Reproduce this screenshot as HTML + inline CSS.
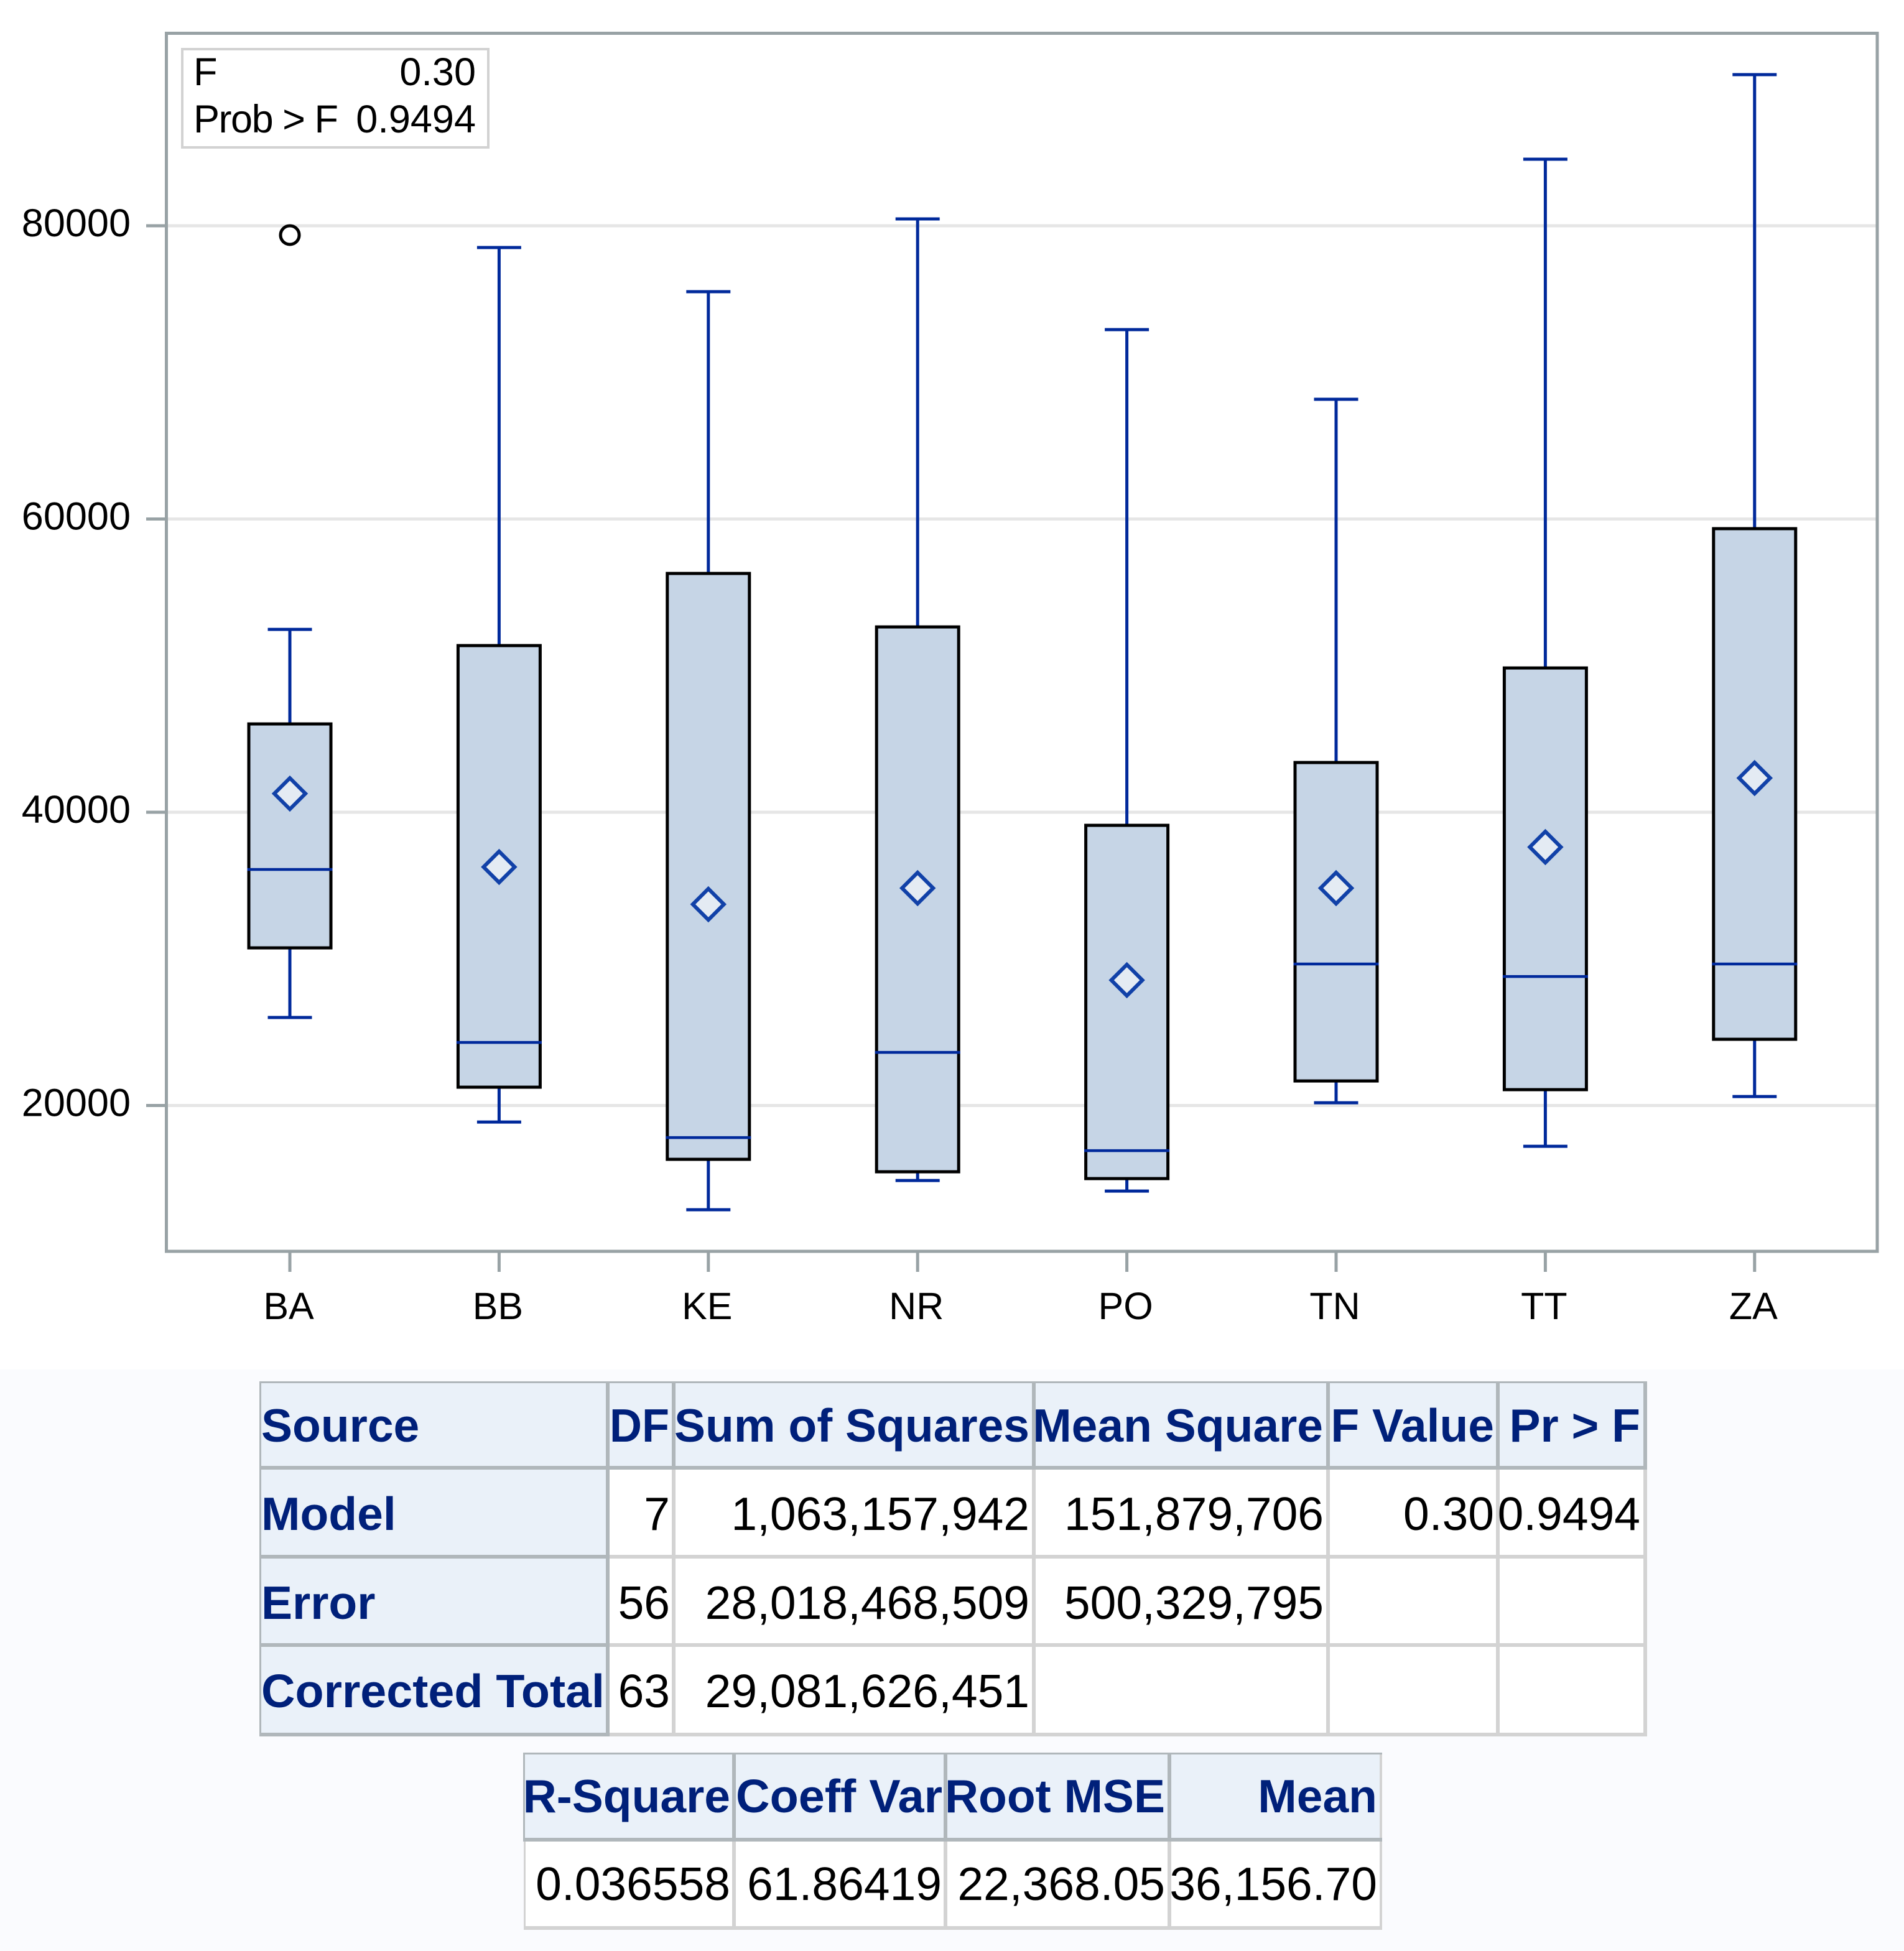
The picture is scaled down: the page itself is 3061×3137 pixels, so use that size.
<!DOCTYPE html>
<html lang="en">
<head>
<meta charset="utf-8">
<title>Box plot and ANOVA tables</title>
<style>
html,body{margin:0;padding:0;background:#fff;}
svg{display:block;}
text{font-family:"Liberation Sans",sans-serif;}
.tick{font-size:63px;fill:#000;}
.xl{font-size:61px;fill:#000;}
.th{font-size:75px;font-weight:bold;fill:#00207a;}
.td{font-size:75px;fill:#000;}
.r{text-anchor:end;}
</style>
</head>
<body>
<svg id="root" xmlns="http://www.w3.org/2000/svg" width="3061" height="3137" viewBox="0 0 3061 3137">
  <rect x="0" y="0" width="3061" height="3137" fill="#ffffff"/>
  <rect x="0" y="2202" width="3061" height="935" fill="#fafbfe"/>

  <g id="chart"></g>

  <g>
    <rect x="293" y="79" width="492" height="158" fill="#ffffff" stroke="#d2d2d2" stroke-width="4"/>
    <text class="tick" x="311" y="137">F</text>
    <text class="tick r" x="765" y="137">0.30</text>
    <text class="tick" x="311" y="213" textLength="233" lengthAdjust="spacing">Prob &gt; F</text>
    <text class="tick r" x="765" y="213">0.9494</text>
  </g>

  <g>
    <rect x="418" y="2222" width="2228" height="138" fill="#eaf1f9"/>
    <rect x="418" y="2360" width="559" height="429" fill="#eaf1f9"/>
    <rect x="980" y="2363" width="1665" height="424" fill="#ffffff"/>
    <g fill="#d3d3d3">
      <rect x="980" y="2500" width="1668" height="6"/>
      <rect x="980" y="2642" width="1668" height="6"/>
      <rect x="980" y="2786" width="1668" height="6"/>
      <rect x="1080" y="2363" width="6" height="429"/>
      <rect x="1659" y="2363" width="6" height="429"/>
      <rect x="2132" y="2363" width="6" height="429"/>
      <rect x="2405" y="2363" width="6" height="429"/>
      <rect x="2642" y="2363" width="6" height="429"/>
    </g>
    <g fill="#b0b7bb">
      <rect x="418" y="2221" width="2230" height="3"/>
      <rect x="417" y="2221" width="3" height="571"/>
      <rect x="418" y="2357" width="2230" height="6"/>
      <rect x="418" y="2500" width="559" height="6"/>
      <rect x="418" y="2642" width="559" height="6"/>
      <rect x="418" y="2786" width="562" height="6"/>
      <rect x="974" y="2221" width="6" height="571"/>
      <rect x="1080" y="2221" width="6" height="139"/>
      <rect x="1659" y="2221" width="6" height="139"/>
      <rect x="2132" y="2221" width="6" height="139"/>
      <rect x="2405" y="2221" width="6" height="139"/>
      <rect x="2642" y="2221" width="6" height="139"/>
    </g>
    <text class="th" x="420" y="2318">Source</text>
    <text class="th r" x="1076" y="2318" textLength="96" lengthAdjust="spacingAndGlyphs">DF</text>
    <text class="th r" x="1655" y="2318">Sum of Squares</text>
    <text class="th r" x="2127" y="2318">Mean Square</text>
    <text class="th r" x="2402" y="2318">F Value</text>
    <text class="th r" x="2637" y="2318">Pr &gt; F</text>

    <text class="th" x="420" y="2460">Model</text>
    <text class="td r" x="1077" y="2460">7</text>
    <text class="td r" x="1655" y="2460">1,063,157,942</text>
    <text class="td r" x="2128" y="2460">151,879,706</text>
    <text class="td r" x="2402" y="2460">0.30</text>
    <text class="td r" x="2637" y="2460">0.9494</text>

    <text class="th" x="420" y="2603">Error</text>
    <text class="td r" x="1077" y="2603">56</text>
    <text class="td r" x="1655" y="2603">28,018,468,509</text>
    <text class="td r" x="2128" y="2603">500,329,795</text>

    <text class="th" x="420" y="2745" textLength="552" lengthAdjust="spacingAndGlyphs">Corrected Total</text>
    <text class="td r" x="1077" y="2745">63</text>
    <text class="td r" x="1655" y="2745">29,081,626,451</text>
  </g>

  <g>
    <rect x="842" y="2819" width="1379" height="139" fill="#eaf1f9"/>
    <rect x="845" y="2961" width="1374" height="137" fill="#ffffff"/>
    <g fill="#d3d3d3">
      <rect x="842" y="2958" width="3" height="145"/>
      <rect x="842" y="3097" width="1380" height="6"/>
      <rect x="1177" y="2958" width="6" height="145"/>
      <rect x="1517" y="2958" width="6" height="145"/>
      <rect x="1877" y="2958" width="6" height="145"/>
      <rect x="2218" y="2818" width="4" height="285"/>
    </g>
    <g fill="#b0b7bb">
      <rect x="842" y="2818" width="1380" height="3"/>
      <rect x="841" y="2818" width="3" height="143"/>
      <rect x="842" y="2955" width="1380" height="6"/>
      <rect x="1177" y="2818" width="6" height="140"/>
      <rect x="1517" y="2818" width="6" height="140"/>
      <rect x="1877" y="2818" width="6" height="140"/>
    </g>
    <text class="th r" x="1174" y="2914">R-Square</text>
    <text class="th r" x="1515" y="2914" textLength="332" lengthAdjust="spacingAndGlyphs">Coeff Var</text>
    <text class="th r" x="1873" y="2914">Root MSE</text>
    <text class="th r" x="2214" y="2914">Mean</text>
    <text class="td r" x="1174" y="3055">0.036558</text>
    <text class="td r" x="1514" y="3055">61.86419</text>
    <text class="td r" x="1873" y="3055">22,368.05</text>
    <text class="td r" x="2214" y="3055">36,156.70</text>
  </g>
</svg>

<script>
const categories = ["BA","BB","KE","NR","PO","TN","TT","ZA"];
const whiskerHigh = [52470,78515,75503,80467,72916,68165,84539,90308];
const q3Values = [46022,51366,56287,52639,39107,43392,49839,59341];
const medians = [36095,24302,17812,23624,16922,29648,28799,29648];
const q1Values = [30750,21248,16328,15479,15013,21672,21079,24515];
const whiskerLow = [26000,18873,12892,14885,14164,20188,17218,20612];
const means = [41270,36265,33720,34823,28545,34823,37623,42331];
const outlierCategories = ["BA"];
const outlierValues = [79364];
const yTickValues = [20000,40000,60000,80000];

const NS = "http://www.w3.org/2000/svg";
const chart = document.getElementById("chart");

const plot = {left:267.5, right:3018, top:53.5, bottom:2012};
const yScale = v => 363 + (80000 - v) * 471.5 / 20000;
const xScale = c => 466 + categories.indexOf(c) * 336.4;

function make(tag, geometry, parent) {
  const node = document.createElementNS(NS, tag);
  for (const k in geometry) node.setAttribute(k, geometry[k]);
  (parent || chart).appendChild(node);
  return node;
}

const AXIS = "#98a2a5";
const BLUE = "#00299b";
const BOXW = 132;
const CAPW = 71;

yTickValues.forEach(function (v) {
  const grid = make("line", {x1:plot.left, x2:plot.right, y1:yScale(v), y2:yScale(v), stroke:"#e6e6e6", "stroke-width":5});
  
  
  const tick = make("line", {x1:235, x2:plot.left, y1:yScale(v), y2:yScale(v), stroke:AXIS, "stroke-width":5});
  
  
  const label = make("text", {x:210, y:yScale(v) + 17, "text-anchor":"end", "class":"tick"});
  label.textContent = String(v);
  
  
});

const frame = make("rect", {x:plot.left, y:plot.top, width:plot.right - plot.left, height:plot.bottom - plot.top, fill:"none", stroke:AXIS, "stroke-width":5});



categories.forEach(function (c, i) {
  const x = xScale(c);

  const xTick = make("line", {x1:x, x2:x, y1:plot.bottom, y2:2045, stroke:AXIS, "stroke-width":5});
  
  

  const xLabel = make("text", {x:x - 2, y:2121, "text-anchor":"middle", "class":"xl"});
  xLabel.textContent = c;
  
  

  const upper = make("line", {x1:x, x2:x, y1:yScale(whiskerHigh[i]), y2:yScale(q3Values[i]), stroke:BLUE, "stroke-width":5});
  
  

  const lower = make("line", {x1:x, x2:x, y1:yScale(q1Values[i]), y2:yScale(whiskerLow[i]), stroke:BLUE, "stroke-width":5});
  
  

  const capHigh = make("line", {x1:x - CAPW / 2, x2:x + CAPW / 2, y1:yScale(whiskerHigh[i]), y2:yScale(whiskerHigh[i]), stroke:BLUE, "stroke-width":5});
  
  

  const capLow = make("line", {x1:x - CAPW / 2, x2:x + CAPW / 2, y1:yScale(whiskerLow[i]), y2:yScale(whiskerLow[i]), stroke:BLUE, "stroke-width":5});
  
  

  const box = make("rect", {x:x - BOXW / 2, y:yScale(q3Values[i]), width:BOXW, height:yScale(q1Values[i]) - yScale(q3Values[i]), fill:"#c6d5e6", stroke:"#000", "stroke-width":5});
  
  

  const median = make("line", {x1:x - BOXW / 2 - 2.5, x2:x + BOXW / 2 + 2.5, y1:yScale(medians[i]), y2:yScale(medians[i]), stroke:BLUE, "stroke-width":4.5});
  
  

  const my = yScale(means[i]);
  const d = 25;
  const diamond = make("polygon", {points:[x, my - d, x + d, my, x, my + d, x - d, my].join(" "), fill:"#e4ebf3", stroke:"#1141a8", "stroke-width":6});
  
  
});

outlierValues.forEach(function (v, i) {
  const dot = make("circle", {cx:xScale(outlierCategories[i]), cy:yScale(v), r:15, fill:"none", stroke:"#000", "stroke-width":5});
  
  
});
</script>
</body>
</html>
